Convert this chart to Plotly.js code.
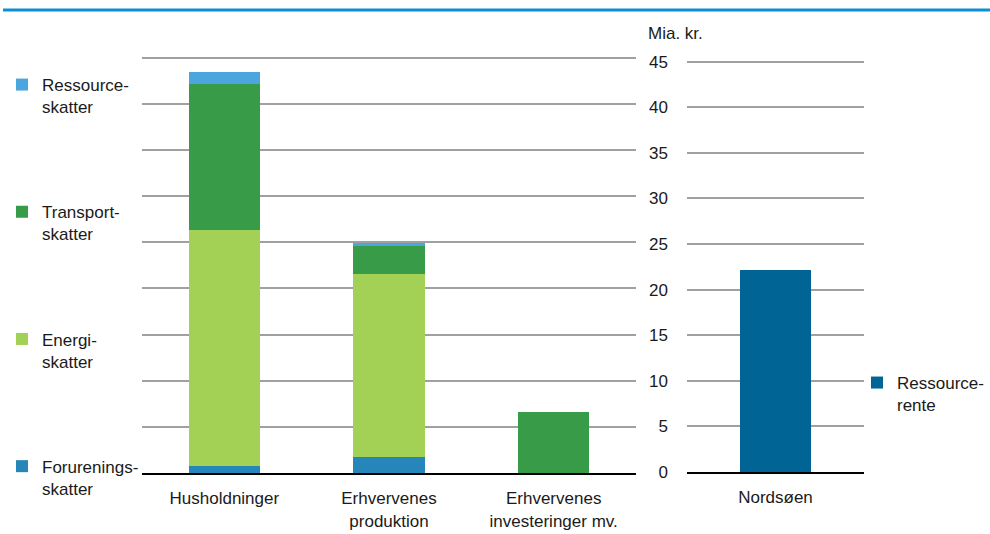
<!DOCTYPE html>
<html>
<head>
<meta charset="utf-8">
<script src="https://cdn.plot.ly/plotly-3.0.1.min.js"></script>
<style>html,body{margin:0;padding:0;background:#fff;}#chart{width:990px;height:534px;}</style>
</head>
<body>
<div id="chart"></div>
<script>
// Data (Mia. kr.)
const categories = ['Husholdninger', 'Erhvervenes<br>produktion', 'Erhvervenes<br>investeringer mv.'];
const forureningsskatter = [0.8, 1.7, 0];
const energiskatter = [25.55, 19.85, 0];
const transportskatter = [15.75, 3.0, 6.6];
const ressourceskatter = [1.35, 0.33, 0];
const nordsoenCategory = ['Nordsøen'];
const ressourcerente = [22.15];
const yTicks = [0, 5, 10, 15, 20, 25, 30, 35, 40, 45];

const FONT = {family: 'Liberation Sans, Arial, sans-serif', size: 17, color: '#1a1a1a'};
const W = 990, H = 534;
const px = v => v / W, py = v => 1 - v / H;
const YMAX = 45.3;
// pixel of value 45 and 0 for each panel -> domain top for range [0, YMAX]
function domTop(p0, p45) { return py(p0 - (p0 - p45) * YMAX / 45); }

function leftBar(name, y, color, rank) {
  return {type: 'bar', name: name, x: categories, y: y, xaxis: 'x', yaxis: 'y',
    width: 0.435, marker: {color: color}, legendgroup: name, legendrank: rank, legend: 'legend', hoverinfo: 'skip'};
}
const traces = [
  leftBar('Forurenings-<br>skatter', forureningsskatter, '#2685b9', 4),
  leftBar('Energi-<br>skatter', energiskatter, '#a2d155', 3),
  leftBar('Transport-<br>skatter', transportskatter, '#379b48', 2),
  leftBar('Ressource-<br>skatter', ressourceskatter, '#4ba6dd', 1),
  {type: 'bar', name: 'Ressource-<br>rente', x: nordsoenCategory, y: ressourcerente, xaxis: 'x2', yaxis: 'y2',
    width: 0.40, marker: {color: '#006495'}, legend: 'legend2', hoverinfo: 'skip'}
];

const gridStyle = {showgrid: true, gridcolor: '#a0a0a0', gridwidth: 2, zeroline: false,
  tickvals: yTicks, range: [0, YMAX], fixedrange: true};

const layout = {
  width: W, height: H,
  margin: {l: 0, r: 0, t: 0, b: 0},
  paper_bgcolor: '#fff', plot_bgcolor: '#fff',
  font: FONT,
  barmode: 'stack',
  showlegend: true,
  xaxis: {domain: [px(142), px(636)], anchor: 'y', showline: true, linecolor: '#000', linewidth: 2,
    ticks: '', showgrid: false, tickfont: FONT, ticklabelstandoff: 9, fixedrange: true},
  yaxis: Object.assign({domain: [py(473), domTop(473, 57.7)], anchor: 'x', showticklabels: false, ticks: ''}, gridStyle),
  xaxis2: {domain: [px(687), px(864)], anchor: 'y2', showline: true, linecolor: '#000', linewidth: 2,
    ticks: '', showgrid: false, tickfont: FONT, ticklabelstandoff: 9, fixedrange: true},
  yaxis2: Object.assign({domain: [py(472), domTop(472, 61.7)], anchor: 'x2', side: 'left', ticks: '',
    showticklabels: true, tickfont: FONT, ticklabelstandoff: 18}, gridStyle),
  legend: {x: px(2), y: py(67), xanchor: 'left', yanchor: 'top', traceorder: 'grouped',
    tracegroupgap: 80, valign: 'top', font: FONT, bgcolor: 'rgba(0,0,0,0)', itemclick: false, itemdoubleclick: false},
  legend2: {x: px(857), y: py(365), xanchor: 'left', yanchor: 'top', valign: 'top', font: FONT,
    bgcolor: 'rgba(0,0,0,0)', itemclick: false, itemdoubleclick: false},
  annotations: [
    {text: 'Mia. kr.', xref: 'paper', yref: 'paper', x: px(646), y: py(33), xanchor: 'left', yanchor: 'middle',
      showarrow: false, font: FONT}
  ],
  shapes: [
    {type: 'line', xref: 'paper', yref: 'paper', x0: px(3), x1: 1, y0: py(10), y1: py(10),
      line: {color: '#0a8fd6', width: 3}}
  ]
};

Plotly.newPlot('chart', traces, layout, {displayModeBar: false, staticPlot: true});
</script>
</body>
</html>
